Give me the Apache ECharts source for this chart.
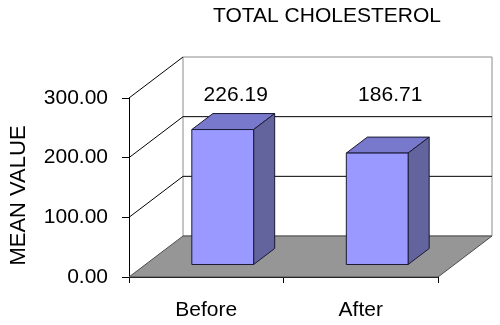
<!DOCTYPE html>
<html>
<head>
<meta charset="utf-8">
<script src="https://cdn.jsdelivr.net/npm/echarts@6/dist/echarts.min.js"></script>
<style>
  html, body { margin: 0; padding: 0; background: #fff; }
  #chart { width: 500px; height: 325px; }
</style>
</head>
<body>
<div id="chart"></div>
<script>
var categories = ['Before', 'After'];
var meanValues = [226.19, 186.71];
var yTicks = [0, 100, 200, 300];

var FONT = '"Liberation Sans", Arial, sans-serif';
// depth of the 3d box (pixels), and where the bars sit inside it
var DEPTH = [54, -41];
var BAR_FRONT = 0.305, BAR_BACK = 0.695;

var chart = echarts.init(document.getElementById('chart'));

function renderWalls(params, api) {
    var cs = params.coordSys;
    var x0 = cs.x, x1 = cs.x + cs.width;
    var dx = DEPTH[0], dy = DEPTH[1];
    var yb = api.coord([0, 0])[1];
    var yt = api.coord([0, 300])[1];
    var kids = [];
    // back wall
    kids.push({
        type: 'rect',
        shape: { x: x0 + dx, y: yt + dy, width: cs.width, height: yb - yt },
        style: { fill: '#fff', stroke: '#8c8c8c', lineWidth: 1 }
    });
    // side wall outline
    kids.push({
        type: 'line',
        shape: { x1: x0, y1: yt, x2: x0 + dx, y2: yt + dy },
        style: { stroke: '#000', lineWidth: 1 }
    });
    // gridlines on the back and left walls
    yTicks.forEach(function (v) {
        if (v === 0 || v === 300) return;
        var y = api.coord([0, v])[1];
        kids.push({
            type: 'polyline',
            shape: { points: [[x0, y], [x0 + dx, y + dy], [x1 + dx, y + dy]] },
            style: { fill: null, stroke: '#000', lineWidth: 1 }
        });
    });
    // floor
    kids.push({
        type: 'polygon',
        shape: { points: [[x0, yb], [x1, yb], [x1 + dx, yb + dy], [x0 + dx, yb + dy]] },
        style: { fill: '#969696', stroke: '#4d4d4d', lineWidth: 1 }
    });
    return { type: 'group', children: kids };
}

function renderBar(params, api) {
    var idx = api.value(0);
    var val = api.value(1);
    var c = api.coord([idx, val]);
    var base = api.coord([idx, 0]);
    var w = api.size([1, 0])[0] * 0.4;
    var fx = DEPTH[0] * BAR_FRONT, fy = DEPTH[1] * BAR_FRONT;
    var bx = DEPTH[0] * (BAR_BACK - BAR_FRONT), by = DEPTH[1] * (BAR_BACK - BAR_FRONT);
    var left = c[0] - w / 2 + fx, right = c[0] + w / 2 + fx;
    var top = c[1] + fy, bottom = base[1] + fy;
    var edge = { stroke: '#1a1a33', lineWidth: 1, lineJoin: 'round' };
    var yLabel = api.coord([idx, 300])[1] - 3;
    return {
        type: 'group',
        children: [
            {
                type: 'polygon',
                shape: { points: [[left, top], [right, top], [right + bx, top + by], [left + bx, top + by]] },
                style: Object.assign({ fill: '#7878cc' }, edge)
            },
            {
                type: 'polygon',
                shape: { points: [[right, top], [right + bx, top + by], [right + bx, bottom + by], [right, bottom]] },
                style: Object.assign({ fill: '#63639e' }, edge)
            },
            {
                type: 'rect',
                shape: { x: left, y: top, width: right - left, height: bottom - top },
                style: Object.assign({ fill: '#9999ff' }, edge)
            },
            {
                type: 'text',
                x: c[0] + fx + 13,
                y: yLabel,
                style: {
                    text: val.toFixed(2),
                    fill: '#000',
                    font: '21px ' + FONT,
                    align: 'center',
                    verticalAlign: 'middle'
                }
            }
        ]
    };
}

var option = {
    animation: false,
    backgroundColor: '#fff',
    title: {
        text: 'TOTAL CHOLESTEROL',
        left: 208,
        top: 1,
        textStyle: { fontFamily: FONT, fontSize: 21, fontWeight: 'normal', color: '#000' }
    },
    grid: { left: 125, right: 62, top: 98, bottom: 48 },
    xAxis: {
        type: 'category',
        data: categories,
        axisLine: { show: true, lineStyle: { color: '#000', width: 1 } },
        axisTick: { show: true, length: 6, lineStyle: { color: '#000' } },
        axisLabel: { margin: 23, color: '#000', fontFamily: FONT, fontSize: 21 }
    },
    yAxis: {
        type: 'value',
        min: 0,
        max: 300,
        interval: 100,
        name: 'MEAN VALUE',
        nameLocation: 'middle',
        nameGap: 99,
        nameTextStyle: { fontFamily: FONT, fontSize: 22, color: '#000', padding: [0, 16, 0, 0] },
        axisLine: { show: true, lineStyle: { color: '#000', width: 1 } },
        axisTick: { show: true, length: 7, lineStyle: { color: '#000' } },
        splitLine: { show: false },
        axisLabel: {
            margin: 21,
            color: '#000',
            fontFamily: FONT,
            fontSize: 21,
            formatter: function (v) { return v.toFixed(2); }
        }
    },
    series: [
        {
            type: 'custom',
            name: 'walls',
            z: 1,
            silent: true,
            renderItem: renderWalls,
            data: [[0, 0]]
        },
        {
            type: 'custom',
            name: 'Mean value',
            z: 3,
            renderItem: renderBar,
            encode: { x: 0, y: 1 },
            data: meanValues.map(function (v, i) { return [i, v]; })
        }
    ]
};

chart.setOption(option);
</script>
</body>
</html>
